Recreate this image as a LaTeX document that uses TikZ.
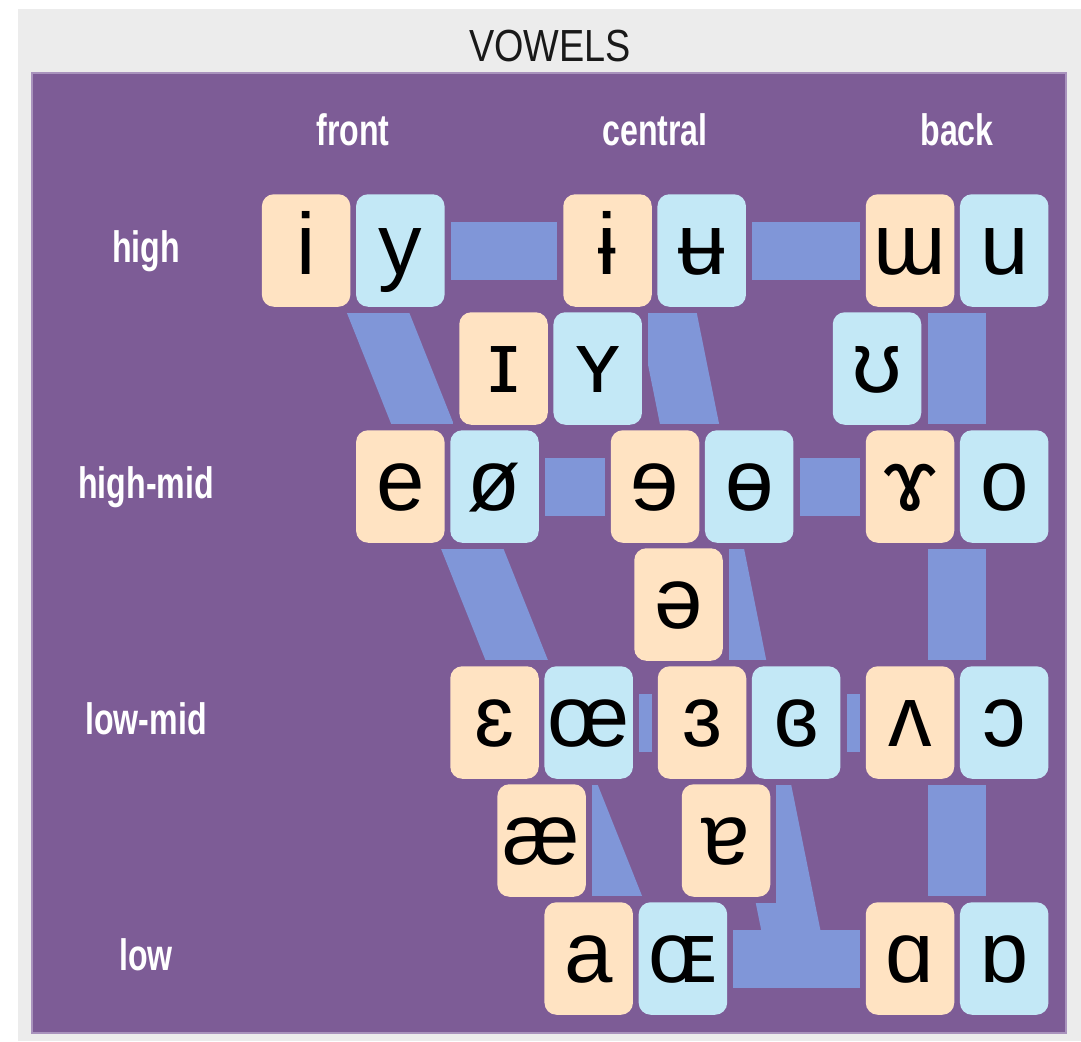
\documentclass[tikz,border=0pt]{standalone}
\usepackage{fontspec}
\setmainfont{Liberation Sans}
\newfontfamily\ipafont{Liberation Sans}
\newfontfamily\narrowfont[FakeStretch=0.73]{Liberation Sans}
\newfontfamily\titlefont[FakeStretch=0.84]{Liberation Sans}
\usetikzlibrary{calc}
\definecolor{panelgray}{HTML}{ECECEC}
\definecolor{chartpurple}{HTML}{7D5C96}
\definecolor{edgepurple}{HTML}{A993BD}
\definecolor{flatcol}{HTML}{FFE3C2}
\definecolor{roundcol}{HTML}{C3E8F6}
\definecolor{bandblue}{HTML}{8096D8}
\pgfdeclarelayer{background}
\pgfsetlayers{background,main}
\begin{document}
\begin{tikzpicture}[
        x=1pt, y=-1pt,
        tile/.style={rounded corners=12pt, minimum width=88.5pt, minimum height=112.5pt, inner sep=0pt,
            text height=48pt, text depth=0pt, font=\ipafont\fontsize{87}{87}\selectfont},
        lipsflat/.style={tile, fill=flatcol},
        lipsround/.style={tile, fill=roundcol},
        band/.style={draw=bandblue, line width=58pt},
        header/.style={anchor=base, text=white, font=\narrowfont\bfseries\fontsize{44}{44}\selectfont},
    ]
    \useasboundingbox (0,0) rectangle (1081,1041);
    \node[anchor=base, text=black!90, font=\titlefont\fontsize{45}{45}\selectfont] (title) at (550,62) {VOWELS};
    \node[header] (front) at (353,145) {front};
    \node[header] (central) at (655,145) {central};
    \node[header] (back) at (957,145) {back};
    \node[header] (high) at (146,262) {high};
    \node[header] (highmid) at (146,498) {high-mid};
    \node[header] (lowmid) at (146,734) {low-mid};
    \node[header] (low) at (146,970) {low};

    \node[lipsflat] (i) at (306.1,250.5) {i};
    \node[lipsround] (y) at (400.3,250.5) {y};
    \node[lipsflat] (ibar) at (607.5,250.5) {ɨ};
    \node[lipsround] (ubar) at (701.7,250.5) {ʉ};
    \node[lipsflat] (turnm) at (910,250.5) {ɯ};
    \node[lipsround] (u) at (1004.2,250.5) {u};

    \node[lipsflat] (smallcapi) at (503.5,368.5) {ɪ};
    \node[lipsround] (smallcapy) at (597.7,368.5) {ʏ};
    \node[lipsround] (upsilon) at (877,368.5) {ʊ};

    \node[lipsflat] (e) at (400.3,486.5) {e};
    \node[lipsround] (oslash) at (494.5,486.5) {ø};
    \node[lipsflat] (reve) at (655,486.5) {ɘ};
    \node[lipsround] (baro) at (749.2,486.5) {ɵ};
    \node[lipsflat] (ramshorn) at (910,486.5) {ɤ};
    \node[lipsround] (o) at (1004.2,486.5) {o};

    \node[lipsflat] (schwa) at (678.5,604.5) {ə};

    \node[lipsflat] (epsilon) at (494.5,722.5) {ɛ};
    \node[lipsround] (oe) at (588.7,722.5) {œ};
    \node[lipsflat] (revepsilon) at (702,722.5) {ɜ};
    \node[lipsround] (closedrevepsilon) at (796.2,722.5) {ɞ};
    \node[lipsflat] (turnv) at (910,722.5) {ʌ};
    \node[lipsround] (openo) at (1004.2,722.5) {ɔ};

    \node[lipsflat] (ae) at (541.6,840.5) {æ};
    \node[lipsflat] (turna) at (726,840.5) {ɐ};

    \node[lipsflat] (a) at (588.7,958.5) {a};
    \node[lipsround] (smallcapoe) at (682.9,958.5) {ɶ};
    \node[lipsflat] (alpha) at (910,958.5) {ɑ};
    \node[lipsround] (turnalpha) at (1004.2,958.5) {ɒ};

    \coordinate (fronthigh) at ($(i)!0.5!(y)$);
    \coordinate (centralhigh) at ($(ibar)!0.5!(ubar)$);
    \coordinate (backhigh) at ($(turnm)!0.5!(u)$);
    \coordinate (fronthighmid) at ($(e)!0.5!(oslash)$);
    \coordinate (centralhighmid) at ($(reve)!0.5!(baro)$);
    \coordinate (backhighmid) at ($(ramshorn)!0.5!(o)$);
    \coordinate (frontlowmid) at ($(epsilon)!0.5!(oe)$);
    \coordinate (centrallowmid) at ($(revepsilon)!0.5!(closedrevepsilon)$);
    \coordinate (backlowmid) at ($(turnv)!0.5!(openo)$);
    \coordinate (frontlow) at ($(a)!0.5!(smallcapoe)$);
    \coordinate (centrallow) at (796.5,958.5);
    \coordinate (backlow) at ($(alpha)!0.5!(turnalpha)$);

    \begin{pgfonlayer}{background}
        \fill[panelgray] (18,9) rectangle (1081,1041);
        \filldraw[fill=chartpurple, draw=edgepurple, line width=1.5pt] (32,73) rectangle (1066,1033);
        \draw[band] (fronthigh) -- (centralhigh) -- (backhigh);
        \draw[band] (fronthighmid) -- (centralhighmid) -- (backhighmid);
        \draw[band] (frontlowmid) -- (centrallowmid) -- (backlowmid);
        \draw[band] (frontlow) -- (backlow);
        \draw[band] (fronthigh) -- (fronthighmid) -- (frontlowmid) -- (frontlow);
        \draw[band] (centralhigh) -- (centralhighmid) -- (centrallowmid) -- (centrallow);
        \draw[band] (backhigh) -- (backhighmid) -- (backlowmid) -- (backlow);
        \foreach \n in {i,y,ibar,ubar,turnm,u,smallcapi,smallcapy,upsilon,e,oslash,reve,baro,ramshorn,o,
                schwa,epsilon,oe,revepsilon,closedrevepsilon,turnv,openo,ae,turna,a,smallcapoe,alpha,turnalpha}
            \fill[chartpurple] ($(\n.north west)+(-6,-6)$) rectangle ($(\n.south east)+(6,6)$);
    \end{pgfonlayer}
\end{tikzpicture}
\end{document}
